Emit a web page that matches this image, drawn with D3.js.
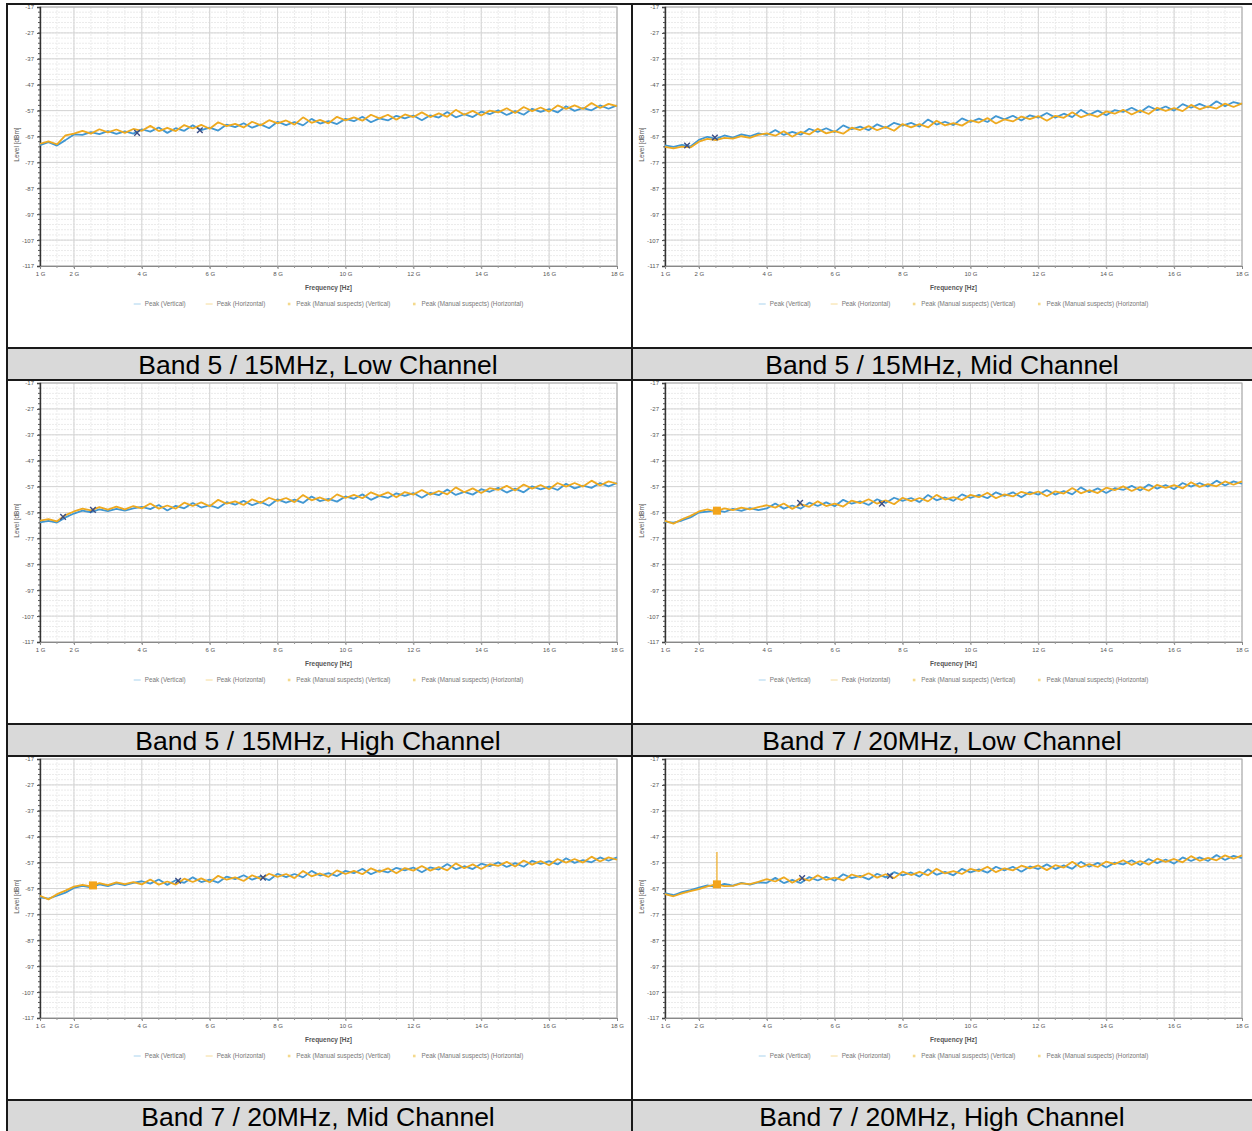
<!DOCTYPE html>
<html>
<head>
<meta charset="utf-8">
<title>Radiated spurious emissions</title>
<script src="https://d3js.org/d3.v7.min.js"></script>
<style>
  body { margin: 0; background: #fff; }
  svg { display: block; font-family: "Liberation Sans", Arial, sans-serif; }
</style>
</head>
<body>
<div id="chart"></div>
<script>
// sample frequencies (GHz) shared by all traces
var freqGHz = [1,1.25,1.5,1.75,2,2.25,2.5,2.75,3,3.25,3.5,3.75,4,4.25,4.5,4.75,5,5.25,5.5,5.75,
  6,6.25,6.5,6.75,7,7.25,7.5,7.75,8,8.25,8.5,8.75,9,9.25,9.5,9.75,10,10.25,10.5,10.75,
  11,11.25,11.5,11.75,12,12.25,12.5,12.75,13,13.25,13.5,13.75,14,14.25,14.5,14.75,15,15.25,15.5,15.75,
  16,16.25,16.5,16.75,17,17.25,17.5,17.75,18];

var xTicks = [1,2,4,6,8,10,12,14,16,18];
var xTickLabels = ["1 G","2 G","4 G","6 G","8 G","10 G","12 G","14 G","16 G","18 G"];
var yTicks = [-117,-107,-97,-87,-77,-67,-57,-47,-37,-27,-17];

var titles = ["Band 5 / 15MHz, Low Channel","Band 5 / 15MHz, Mid Channel",
  "Band 5 / 15MHz, High Channel","Band 7 / 20MHz, Low Channel",
  "Band 7 / 20MHz, Mid Channel","Band 7 / 20MHz, High Channel"];

var legendNames = ["Peak (Vertical)","Peak (Horizontal)","Peak (Manual suspects) (Vertical)","Peak (Manual suspects) (Horizontal)"];

// Band 5 low
var b5LowV = [-70.3,-69.2,-70.5,-68.4,-66.2,-66.4,-65.3,-66.1,-64.9,-66.0,-65.0,-65.9,
  -64.2,-65.1,-63.5,-65.6,-63.8,-64.8,-62.7,-64.5,-63.6,-64.7,-62.4,-63.4,-61.9,-63.6,-62.3,-63.8,-61.3,-62.6,
  -61.4,-62.7,-60.2,-62.0,-61.1,-62.2,-60.2,-61.1,-59.4,-61.5,-60.0,-60.8,-59.0,-60.0,-58.9,-60.7,-58.8,-59.7,
  -57.5,-59.6,-58.4,-59.5,-57.4,-58.4,-56.9,-58.7,-57.2,-58.6,-56.3,-57.5,-56.4,-57.7,-55.3,-57.1,-56.0,-56.9,
  -55.0,-56.3,-55.0];
var b5LowH = [-69.8,-68.9,-70.0,-66.6,-65.9,-64.8,-65.9,-64.2,-65.4,-64.3,-65.6,-64.1,
  -64.8,-62.9,-64.9,-63.7,-64.9,-62.6,-63.9,-62.5,-64.0,-61.5,-63.0,-62.1,-63.5,-61.3,-62.7,-60.7,-61.9,-60.8,
  -62.4,-59.6,-61.7,-60.6,-61.9,-59.4,-60.8,-59.6,-60.9,-58.6,-60.0,-58.6,-60.5,-58.5,-59.5,-57.7,-59.5,-58.1,
  -59.4,-56.7,-58.6,-57.1,-58.9,-57.0,-57.7,-56.1,-57.9,-55.6,-57.2,-55.8,-57.4,-55.0,-56.4,-55.0,-56.4,-54.1,
  -56.0,-54.4,-55.3];
var b5LowVMarks = [[3.86,-65.6],[5.71,-64.6]];
var b5LowHMarks = [];

// Band 5 mid
var b5MidV = [-70.4,-71.0,-70.2,-70.8,-68.3,-67.1,-67.9,-66.6,-67.4,-66.2,-66.9,-65.8,
  -66.4,-64.5,-66.4,-65.2,-66.3,-64.0,-65.2,-63.8,-65.3,-62.7,-64.2,-63.2,-64.6,-62.3,-63.7,-61.7,-62.8,-61.7,
  -63.2,-60.4,-62.4,-61.3,-62.6,-60.0,-61.4,-60.1,-61.4,-59.1,-60.4,-59.0,-60.8,-58.8,-59.7,-57.9,-59.7,-58.2,
  -59.5,-56.7,-58.6,-57.0,-58.8,-56.8,-57.5,-55.9,-57.6,-55.3,-56.8,-55.4,-57.0,-54.5,-55.9,-54.4,-55.8,-53.4,
  -55.3,-53.7,-54.5];
var b5MidH = [-71.0,-71.6,-70.9,-71.2,-69.0,-67.9,-68.4,-67.5,-67.8,-66.9,-67.5,-66.4,
  -65.8,-66.7,-65.0,-67.1,-65.2,-66.2,-64.0,-65.8,-64.9,-65.9,-63.6,-64.5,-63.0,-64.6,-63.3,-64.8,-62.2,-63.5,
  -62.2,-63.5,-60.9,-62.7,-61.8,-62.8,-60.8,-61.6,-59.9,-62.0,-60.4,-61.2,-59.3,-60.3,-59.1,-60.9,-59.0,-59.8,
  -57.6,-59.6,-58.4,-59.4,-57.3,-58.2,-56.7,-58.5,-56.9,-58.3,-55.9,-57.1,-56.0,-57.2,-54.8,-56.5,-55.4,-56.2,
  -54.3,-55.6,-54.2];
var b5MidVMarks = [[1.65,-70.5],[2.47,-67.4]];
var b5MidHMarks = [];

// Band 5 high
var b5HighV = [-70.8,-70.2,-70.9,-68.9,-67.4,-66.3,-66.9,-65.8,-66.5,-65.6,-66.3,-65.4,
  -64.8,-65.7,-64.1,-66.2,-64.4,-65.4,-63.3,-65.1,-64.2,-65.3,-63.0,-64.0,-62.5,-64.2,-62.9,-64.4,-61.9,-63.2,
  -62.0,-63.3,-60.8,-62.6,-61.7,-62.8,-60.8,-61.7,-60.0,-62.1,-60.6,-61.4,-59.6,-60.6,-59.5,-61.3,-59.4,-60.3,
  -58.1,-60.2,-59.0,-60.1,-58.0,-59.0,-57.5,-59.3,-57.8,-59.2,-56.9,-58.1,-57.0,-58.3,-55.9,-57.7,-56.6,-57.5,
  -55.6,-56.9,-55.6];
var b5HighH = [-70.1,-69.6,-70.4,-68.0,-66.6,-65.5,-66.2,-64.9,-65.9,-64.7,-65.8,-64.5,
  -65.4,-63.5,-65.5,-64.3,-65.5,-63.2,-64.5,-63.1,-64.6,-62.1,-63.6,-62.7,-64.1,-61.9,-63.3,-61.3,-62.5,-61.4,
  -63.0,-60.2,-62.3,-61.2,-62.5,-60.0,-61.4,-60.2,-61.5,-59.2,-60.6,-59.2,-61.1,-59.1,-60.1,-58.3,-60.1,-58.7,
  -60.0,-57.3,-59.2,-57.7,-59.5,-57.6,-58.3,-56.7,-58.5,-56.2,-57.8,-56.4,-58.0,-55.6,-57.0,-55.6,-57.0,-54.7,
  -56.6,-55.0,-55.9];
var b5HighVMarks = [[1.68,-68.7],[2.56,-66.0]];
var b5HighHMarks = [];

// Band 7 low
var b7LowV = [-70.6,-70.9,-70.1,-68.9,-67.0,-66.7,-66.1,-66.8,-65.6,-66.4,-65.3,-66.1,
  -65.4,-63.5,-65.5,-64.3,-65.5,-63.2,-64.5,-63.1,-64.6,-62.1,-63.6,-62.7,-64.1,-61.9,-63.3,-61.3,-62.5,-61.4,
  -63.0,-60.2,-62.3,-61.2,-62.5,-60.0,-61.4,-60.2,-61.5,-59.2,-60.6,-59.2,-61.1,-59.1,-60.1,-58.3,-60.1,-58.7,
  -60.0,-57.3,-59.2,-57.7,-59.5,-57.6,-58.3,-56.7,-58.5,-56.2,-57.8,-56.4,-58.0,-55.6,-57.0,-55.6,-57.0,-54.7,
  -56.6,-55.0,-55.9];
var b7LowH = [-70.2,-71.3,-69.6,-68.3,-66.6,-65.8,-66.6,-65.4,-66.1,-65.1,-65.8,-64.9,
  -64.2,-65.1,-63.5,-65.6,-63.8,-64.8,-62.7,-64.5,-63.6,-64.7,-62.4,-63.4,-61.9,-63.6,-62.3,-63.8,-61.3,-62.6,
  -61.4,-62.7,-60.2,-62.0,-61.1,-62.2,-60.2,-61.1,-59.4,-61.5,-60.0,-60.8,-59.0,-60.0,-58.9,-60.7,-58.8,-59.7,
  -57.5,-59.6,-58.4,-59.5,-57.4,-58.4,-56.9,-58.7,-57.2,-58.6,-56.3,-57.5,-56.4,-57.7,-55.3,-57.1,-56.0,-56.9,
  -55.0,-56.3,-55.0];
var b7LowVMarks = [[4.98,-63.3],[7.39,-63.6]];
var b7LowHMarks = [[2.53,-66.3]];

// Band 7 mid
var b7MidV = [-70.4,-70.9,-69.8,-68.6,-66.8,-66.0,-66.6,-65.4,-66.1,-65.0,-65.7,-64.8,
  -64.2,-65.1,-63.5,-65.6,-63.8,-64.8,-62.7,-64.5,-63.6,-64.7,-62.4,-63.4,-61.9,-63.6,-62.3,-63.8,-61.3,-62.6,
  -61.4,-62.7,-60.2,-62.0,-61.1,-62.2,-60.2,-61.1,-59.4,-61.5,-60.0,-60.8,-59.0,-60.0,-58.9,-60.7,-58.8,-59.7,
  -57.5,-59.6,-58.4,-59.5,-57.4,-58.4,-56.9,-58.7,-57.2,-58.6,-56.3,-57.5,-56.4,-57.7,-55.3,-57.1,-56.0,-56.9,
  -55.0,-56.3,-55.0];
var b7MidH = [-69.8,-71.2,-69.2,-67.8,-66.3,-65.6,-66.2,-64.9,-65.7,-64.6,-65.3,-64.5,
  -65.4,-63.5,-65.5,-64.3,-65.5,-63.2,-64.5,-63.1,-64.6,-62.1,-63.6,-62.7,-64.1,-61.9,-63.3,-61.3,-62.5,-61.4,
  -63.0,-60.2,-62.3,-61.2,-62.5,-60.0,-61.4,-60.2,-61.5,-59.2,-60.6,-59.2,-61.1,-59.1,-60.1,-58.3,-60.1,-58.7,
  -60.0,-57.3,-59.2,-57.7,-59.5,-57.6,-58.3,-56.7,-58.5,-56.2,-57.8,-56.4,-58.0,-55.6,-57.0,-55.6,-57.0,-54.7,
  -56.6,-55.0,-55.9];
var b7MidVMarks = [[5.07,-64.0],[7.57,-62.8]];
var b7MidHMarks = [[2.56,-65.8]];

// Band 7 high
var b7HighV = [-68.8,-69.6,-68.4,-67.6,-66.7,-65.8,-66.4,-65.2,-65.9,-64.8,-65.5,-64.6,
  -64.8,-62.9,-64.9,-63.7,-64.9,-62.6,-63.9,-62.5,-64.0,-61.5,-63.0,-62.1,-63.5,-61.3,-62.7,-60.7,-61.9,-60.8,
  -62.4,-59.6,-61.7,-60.6,-61.9,-59.4,-60.8,-59.6,-60.9,-58.6,-60.0,-58.6,-60.5,-58.5,-59.5,-57.7,-59.5,-58.1,
  -59.4,-56.7,-58.6,-57.1,-58.9,-57.0,-57.7,-56.1,-57.9,-55.6,-57.2,-55.8,-57.4,-55.0,-56.4,-55.0,-56.4,-54.1,
  -56.0,-54.4,-55.3];
var b7HighH = [-69.2,-70.0,-68.9,-68.0,-67.2,-66.2,-65.4,-66.1,-66.0,-65.0,-65.3,-64.4,
  -63.4,-64.3,-62.7,-64.8,-63.0,-64.0,-61.9,-63.7,-62.8,-63.9,-61.6,-62.6,-61.1,-62.8,-61.5,-63.0,-60.5,-61.8,
  -60.6,-61.9,-59.4,-61.2,-60.3,-61.4,-59.4,-60.3,-58.6,-60.7,-59.2,-60.0,-58.2,-59.2,-58.1,-59.9,-58.0,-58.9,
  -56.7,-58.8,-57.6,-58.7,-56.6,-57.6,-56.1,-57.9,-56.4,-57.8,-55.5,-56.7,-55.6,-56.9,-54.5,-56.3,-55.2,-56.1,
  -54.2,-55.5,-54.2];
var b7HighVMarks = [[5.04,-63.0],[7.63,-62.2]];
var b7HighHMarks = [[2.53,-65.4]];
var b7HighSpike = [[2.53,-65.4,-52.9]];

var panels = [
  {v: b5LowV,  h: b5LowH,  vm: b5LowVMarks,  hm: b5LowHMarks,  spikes: []},
  {v: b5MidV,  h: b5MidH,  vm: b5MidVMarks,  hm: b5MidHMarks,  spikes: []},
  {v: b5HighV, h: b5HighH, vm: b5HighVMarks, hm: b5HighHMarks, spikes: []},
  {v: b7LowV,  h: b7LowH,  vm: b7LowVMarks,  hm: b7LowHMarks,  spikes: []},
  {v: b7MidV,  h: b7MidH,  vm: b7MidVMarks,  hm: b7MidHMarks,  spikes: []},
  {v: b7HighV, h: b7HighH, vm: b7HighVMarks, hm: b7HighHMarks, spikes: b7HighSpike}
];

var width = 1252, height = 1131;
var colX = [8, 632], colW = [624, 620];
var rowY = [4, 380, 756];
var chartH = 344, capH = 32;
var plotW = 577, plotH = 259;
var blue = "#4197d2", orange = "#eea91f";

var svg = d3.select("#chart").append("svg")
  .attr("width", width).attr("height", height);

var x = d3.scaleLinear().domain([1, 18]).range([0, plotW]);
var y = d3.scaleLinear().domain([-117, -17]).range([plotH, 0]);

var line = d3.line()
  .x(function(d) { return x(d[0]); })
  .y(function(d) { return y(d[1]); });

panels.forEach(function(p, i) {
  var col = i % 2, row = Math.floor(i / 2);
  var px = colX[col] + (col == 0 ? 32 : 33);
  var py = rowY[row] + 3;
  var g = svg.append("g").attr("transform", "translate(" + px + "," + py + ")");

  // minor grid
  g.append("g").selectAll("line")
    .data(d3.range(1.5, 18, 0.5)).enter().append("line")
    .attr("x1", d => x(d)).attr("x2", d => x(d))
    .attr("y1", 0).attr("y2", plotH)
    .attr("stroke", "#ebebeb").attr("stroke-dasharray", "2,1");
  g.append("g").selectAll("line")
    .data(d3.range(-115, -17, 2)).enter().append("line")
    .attr("x1", 0).attr("x2", plotW)
    .attr("y1", d => y(d)).attr("y2", d => y(d))
    .attr("stroke", "#ebebeb").attr("stroke-dasharray", "2,1");
  // major grid
  g.append("g").selectAll("line")
    .data(xTicks).enter().append("line")
    .attr("x1", d => x(d)).attr("x2", d => x(d))
    .attr("y1", 0).attr("y2", plotH)
    .attr("stroke", "#d4d4d4");
  g.append("g").selectAll("line")
    .data(yTicks).enter().append("line")
    .attr("x1", 0).attr("x2", plotW)
    .attr("y1", d => y(d)).attr("y2", d => y(d))
    .attr("stroke", "#d4d4d4");

  g.append("rect").attr("width", plotW).attr("height", plotH)
    .attr("fill", "none").attr("stroke", "#aaa");

  // axes
  var yAxis = g.append("g")
    .call(d3.axisLeft(y).tickValues(yTicks).tickSize(3).tickFormat(d => d));
  yAxis.select(".domain").attr("stroke", "#333").attr("stroke-width", 1.4);
  yAxis.selectAll("text").attr("font-size", 6).attr("fill", "#555").attr("x", -6);
  yAxis.selectAll(".tick line").attr("stroke", "#444");
  g.append("g").selectAll("line")
    .data(d3.range(-115, -17, 2)).enter().append("line")
    .attr("x1", -2).attr("x2", 0)
    .attr("y1", d => y(d)).attr("y2", d => y(d))
    .attr("stroke", "#555");

  var xAxis = g.append("g").attr("transform", "translate(0," + plotH + ")")
    .call(d3.axisBottom(x).tickValues(xTicks).tickSize(3)
      .tickFormat((d, k) => xTickLabels[k]));
  xAxis.select(".domain").attr("stroke", "#888");
  xAxis.selectAll("text").attr("font-size", 6).attr("fill", "#555").attr("y", 6);
  xAxis.selectAll(".tick line").attr("stroke", "#888");
  g.append("g").selectAll("line")
    .data(d3.range(1.5, 18, 0.5)).enter().append("line")
    .attr("x1", d => x(d)).attr("x2", d => x(d))
    .attr("y1", plotH).attr("y2", plotH + 2)
    .attr("stroke", "#999");

  g.append("text").attr("x", plotW / 2).attr("y", plotH + 24)
    .attr("text-anchor", "middle").attr("font-size", 6.5).attr("font-weight", "bold")
    .attr("fill", "#555").text("Frequency [Hz]");

  g.append("text")
    .attr("transform", "translate(-21," + (plotH / 2 + 8) + ") rotate(-90)")
    .attr("text-anchor", "middle").attr("font-size", 6.5)
    .attr("fill", "#555").text("Level [dBm]");

  // traces
  var vData = p.v.map((val, k) => [freqGHz[k], val]);
  var hData = p.h.map((val, k) => [freqGHz[k], val]);
  g.append("path").datum(vData).attr("d", line)
    .attr("fill", "none").attr("stroke", blue).attr("stroke-width", 1.8)
    .attr("stroke-linejoin", "bevel");
  g.append("path").datum(hData).attr("d", line)
    .attr("fill", "none").attr("stroke", orange).attr("stroke-width", 1.8)
    .attr("stroke-linejoin", "bevel");

  g.selectAll("line.spike").data(p.spikes).enter().append("line")
    .attr("x1", d => x(d[0])).attr("x2", d => x(d[0]))
    .attr("y1", d => y(d[1])).attr("y2", d => y(d[2]))
    .attr("stroke", orange).attr("stroke-width", 1.2);

  g.selectAll("rect.hm").data(p.hm).enter().append("rect")
    .attr("x", d => x(d[0]) - 4).attr("y", d => y(d[1]) - 4)
    .attr("width", 8).attr("height", 8).attr("fill", "#f3a41a");

  g.selectAll("path.vm").data(p.vm).enter().append("path")
    .attr("d", function(d) {
      var cx = x(d[0]), cy = y(d[1]), r = 2.8;
      return "M" + (cx - r) + "," + (cy - r) + "L" + (cx + r) + "," + (cy + r) +
        "M" + (cx - r) + "," + (cy + r) + "L" + (cx + r) + "," + (cy - r);
    })
    .attr("stroke", "#3a4d85").attr("stroke-width", 1.4).attr("fill", "none");

  // legend
  var leg = g.append("g").attr("transform", "translate(0," + (plotH + 38) + ")");
  var items = leg.selectAll("g").data(legendNames).enter().append("g");
  items.append("text").attr("x", 11).attr("y", 2.2)
    .attr("font-size", 6.3).attr("fill", "#777").text(d => d);
  var widths = [];
  items.each(function() { widths.push(this.getBBox().width + 11); });
  var gap = 20;
  var total = d3.sum(widths) + gap * (widths.length - 1);
  var cur = plotW / 2 - total / 2;
  items.attr("transform", function(d, k) {
    var t = "translate(" + cur + ",0)";
    cur += widths[k] + gap;
    return t;
  });
  items.filter((d, k) => k < 2).append("line")
    .attr("x1", 0).attr("x2", 7).attr("y1", 0).attr("y2", 0)
    .attr("stroke", (d, k) => k == 0 ? "#a9d3ee" : "#f6dc9a").attr("stroke-width", 1);
  items.filter((d, k) => k >= 2).append("rect")
    .attr("x", 2.5).attr("y", -1.3).attr("width", 2.6).attr("height", 2.6)
    .attr("fill", "#f4d98c");
});

// captions
titles.forEach(function(t, i) {
  var col = i % 2, row = Math.floor(i / 2);
  var cy = rowY[row] + chartH;
  var cx0 = col == 0 ? 7 : 632;
  var cw = col == 0 ? 625 : 620;
  svg.append("rect").attr("x", cx0).attr("y", cy).attr("width", cw).attr("height", capH)
    .attr("fill", "#d9d9d9");
  svg.append("text").attr("x", colX[col] + colW[col] / 2 - (col == 0 ? 2 : 0))
    .attr("y", cy + capH / 2 + 9.5)
    .attr("text-anchor", "middle").attr("font-size", 26.5).attr("fill", "#000")
    .text(t);
});

// frame lines
var frame = svg.append("g").attr("stroke", "#1a1a1a").attr("stroke-width", 2);
frame.append("line").attr("x1", 7).attr("x2", 7).attr("y1", 3).attr("y2", height);
frame.append("line").attr("x1", 632).attr("x2", 632).attr("y1", 3).attr("y2", height);
frame.append("line").attr("x1", 6).attr("x2", width).attr("y1", 4).attr("y2", 4);
rowY.forEach(function(r) {
  frame.append("line").attr("x1", 6).attr("x2", width)
    .attr("y1", r + chartH).attr("y2", r + chartH);
  frame.append("line").attr("x1", 6).attr("x2", width)
    .attr("y1", r + chartH + capH).attr("y2", r + chartH + capH);
});
</script>
</body>
</html>
